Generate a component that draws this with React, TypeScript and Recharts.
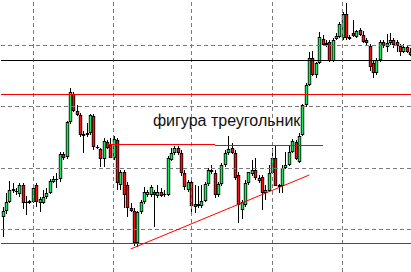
import React from 'react';
import { ComposedChart, Bar, XAxis, YAxis, ReferenceLine, ReferenceDot } from 'recharts';

// candle prices, one entry per bar (arbitrary price units)
const opens = [
  55, 61, 70, 83, 80, 78, 87, 70, 69, 70, 87, 69, 69, 75, 79, 90, 92, 93, 118, 115,
  150, 178, 161, 157, 136, 137, 139, 156, 125, 123, 113, 130, 127, 114, 132, 87, 100, 87, 64, 61,
  29, 60, 70, 77, 77, 80, 76, 80, 78, 77, 112, 119, 124, 119, 99, 82, 90, 68, 66, 66,
  71, 88, 100, 99, 77, 88, 107, 119, 124, 119, 97, 62, 67, 89, 98, 102, 91, 95, 79, 81,
  99, 114, 85, 86, 104, 107, 120, 130, 110, 137, 167, 187, 214, 197, 209, 233, 227, 230, 211, 233,
  235, 234, 258, 233, 239, 235, 242, 237, 232, 226, 209, 199, 212, 230, 225, 229, 232, 230, 226, 220,
  225, 220,
];
const highs = [
  65, 79, 91, 89, 84, 89, 89, 76, 72, 88, 89, 75, 82, 84, 93, 96, 99, 120, 120, 151,
  184, 180, 167, 159, 141, 149, 158, 158, 127, 124, 134, 132, 134, 136, 134, 102, 102, 90, 69, 64,
  61, 72, 85, 82, 87, 82, 87, 84, 82, 116, 124, 126, 126, 122, 102, 92, 92, 87, 86, 87,
  90, 104, 107, 102, 90, 109, 122, 136, 129, 122, 100, 72, 92, 100, 112, 114, 97, 97, 87, 107,
  124, 126, 88, 107, 120, 126, 133, 132, 139, 168, 189, 220, 221, 210, 240, 237, 232, 232, 234, 239,
  250, 260, 269, 237, 252, 242, 244, 241, 234, 228, 212, 214, 232, 232, 238, 239, 234, 232, 228, 228,
  227, 224,
];
const lows = [
  35, 58, 69, 79, 77, 75, 63, 57, 68, 69, 65, 60, 68, 73, 78, 89, 84, 90, 112, 113,
  148, 160, 156, 135, 119, 135, 137, 122, 123, 105, 105, 123, 114, 112, 82, 82, 64, 55, 60, 26,
  25, 58, 68, 75, 75, 45, 74, 75, 75, 76, 111, 117, 117, 96, 82, 80, 59, 59, 64, 64,
  70, 86, 98, 74, 75, 86, 105, 117, 118, 92, 49, 53, 65, 87, 96, 92, 89, 62, 72, 80,
  98, 86, 79, 79, 103, 106, 119, 112, 109, 136, 165, 186, 196, 194, 208, 226, 225, 210, 210, 232,
  234, 232, 232, 232, 235, 234, 236, 229, 227, 201, 194, 197, 210, 224, 220, 227, 224, 220, 216, 219,
  219, 216,
];
const closes = [
  61, 70, 82, 81, 81, 87, 69, 69, 71, 84, 70, 73, 75, 79, 91, 93, 93, 118, 114, 150,
  180, 161, 157, 137, 138, 139, 157, 125, 124, 113, 131, 124, 114, 133, 89, 100, 77, 64, 61, 29,
  60, 70, 80, 80, 85, 77, 80, 76, 77, 114, 119, 124, 119, 99, 85, 90, 66, 65, 68, 71,
  88, 102, 102, 77, 88, 107, 119, 123, 119, 94, 67, 70, 89, 100, 102, 94, 94, 79, 82, 99,
  114, 86, 87, 104, 107, 120, 131, 113, 136, 167, 187, 214, 197, 209, 235, 227, 229, 211, 232, 236,
  248, 258, 234, 235, 236, 241, 237, 230, 229, 205, 199, 212, 230, 226, 229, 232, 227, 226, 220, 225,
  220, 217,
];

// grid (bar index / price) and drawn objects
const gridBars = [9, 33, 56, 80, 101];
const gridPrices = [42.5, 103.5, 165.5, 226.5];
const blackLevel = 211.5;
const redLevel = 177.5;
const supportLevel = 28.5;
const triangleTop = [
  { from: 31, to: 63, price: 127.5 },
  { from: 63, to: 95, price: 126.5 },
];
const trendStart = { bar: 38, price: 23 };
const trendEnd = { bar: 91, price: 97 };
const caption = 'фигура треугольник';

const data = opens.map((open, i) => ({
  i,
  open,
  high: highs[i],
  low: lows[i],
  close: closes[i],
}));

function Candle(props: any) {
  const { x, y, width, height, payload } = props;
  const top = Math.min(y, y + height);
  const h = Math.abs(height);
  const span = payload.high - payload.low;
  const k = span === 0 ? 0 : h / span;
  const toY = (v: number) => top + (payload.high - v) * k;
  const cx = Math.round(x + width / 2) + 0.5;
  const bTop = toY(Math.max(payload.open, payload.close));
  const bBot = toY(Math.min(payload.open, payload.close));
  const bh = Math.max(bBot - bTop, 1);
  const up = payload.close >= payload.open;
  return (
    <g>
      <line x1={cx} x2={cx} y1={top} y2={top + h} stroke="#000" strokeWidth={1} />
      <rect x={cx - 1.7} y={bTop} width={3.4} height={bh} fill="#000" />
      {bh > 2 && (
        <rect
          x={cx - 0.9}
          y={bTop + 1}
          width={1.8}
          height={bh - 2}
          fill={up ? '#19ea5a' : '#f01010'}
        />
      )}
    </g>
  );
}

export default function App() {
  return (
    <div
      style={{
        position: 'fixed',
        left: 0,
        top: 0,
        width: 411,
        height: 272,
        overflow: 'hidden',
        background: '#fff',
      }}
    >
      <ComposedChart
        width={412}
        height={272}
        data={data}
        margin={{ top: 0, right: 0, bottom: 0, left: 1 }}
        barCategoryGap={0}
        barGap={0}
      >
        <XAxis dataKey="i" type="category" hide />
        <YAxis type="number" domain={[0, 272]} hide />
        {gridBars.map((b) => (
          <ReferenceLine
            key={'gx' + b}
            x={b}
            stroke="#7a7a7a"
            strokeDasharray="4 3"
            shapeRendering="crispEdges"
          />
        ))}
        {gridPrices.map((p) => (
          <ReferenceLine
            key={'gy' + p}
            y={p}
            stroke="#7a7a7a"
            strokeDasharray="4 3"
            shapeRendering="crispEdges"
          />
        ))}
        <Bar
          dataKey={(d: any) => [d.low, d.high]}
          shape={Candle}
          isAnimationActive={false}
        />
        <ReferenceLine y={blackLevel} stroke="#000" strokeWidth={1} shapeRendering="crispEdges" />
        <ReferenceLine y={redLevel} stroke="#ff0000" strokeWidth={1} shapeRendering="crispEdges" />
        <ReferenceLine y={supportLevel} stroke="#ff0000" strokeWidth={1} shapeRendering="crispEdges" />
        {triangleTop.map((s) => (
          <ReferenceLine
            key={'t' + s.from}
            segment={[
              { x: s.from, y: s.price },
              { x: s.to, y: s.price },
            ]}
            stroke="#ff0000"
            strokeWidth={1}
            shapeRendering="crispEdges"
          />
        ))}
        <ReferenceLine
          segment={[
            { x: trendStart.bar, y: trendStart.price },
            { x: trendEnd.bar, y: trendEnd.price },
          ]}
          stroke="#ff0000"
          strokeWidth={1}
        />
        <ReferenceDot
          x={44}
          y={152}
          r={0}
          fill="none"
          stroke="none"
          label={{
            value: caption,
            position: 'right',
            offset: 2,
            fill: '#111',
            fontSize: 16,
            fontFamily: '"Liberation Sans", Arial, sans-serif',
          }}
        />
      </ComposedChart>
    </div>
  );
}
